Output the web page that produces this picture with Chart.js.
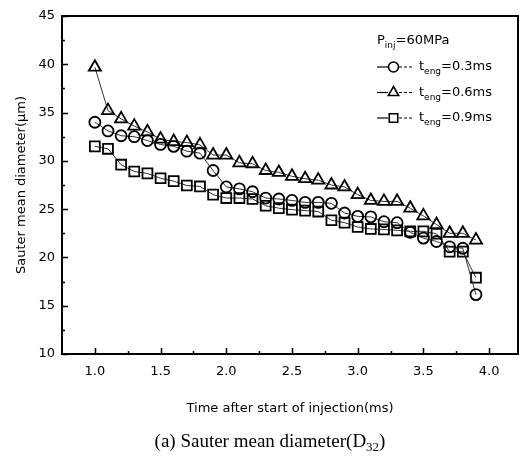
<!DOCTYPE html>
<html>
<head>
<meta charset="utf-8">
<script src="https://cdn.jsdelivr.net/npm/chart.js@4.4.0/dist/chart.umd.min.js"></script>
<style>
    body { margin: 0; background: #fff; }
    canvas { display: block; }
</style>
</head>
<body>
<canvas id="smdChart" width="529" height="463"></canvas>
<script>
// time after start of injection (ms)
const times = [1.0, 1.1, 1.2, 1.3, 1.4, 1.5, 1.6, 1.7, 1.8, 1.9,
               2.0, 2.1, 2.2, 2.3, 2.4, 2.5, 2.6, 2.7, 2.8, 2.9,
               3.0, 3.1, 3.2, 3.3, 3.4, 3.5, 3.6, 3.7, 3.8, 3.9];

// Sauter mean diameter (um) per energizing time
const smd03 = [34.0, 33.1, 32.6, 32.5, 32.1, 31.7, 31.5, 31.0, 30.8, 29.0,
               27.3, 27.1, 26.8, 26.15, 26.05, 25.9, 25.7, 25.7, 25.6, 24.6,
               24.25, 24.2, 23.7, 23.6, 22.6, 22.0, 21.65, 21.1, 20.95, 16.15];
const smd06 = [39.7, 35.2, 34.35, 33.6, 33.0, 32.25, 32.0, 31.9, 31.65, 30.6,
               30.6, 29.8, 29.7, 29.0, 28.8, 28.4, 28.15, 28.0, 27.5, 27.3,
               26.5, 25.9, 25.8, 25.8, 25.1, 24.3, 23.4, 22.5, 22.5, 21.8];
const smd09 = [31.5, 31.25, 29.6, 28.9, 28.7, 28.2, 27.9, 27.45, 27.35, 26.5,
               26.15, 26.15, 26.05, 25.35, 25.1, 24.95, 24.85, 24.75, 23.85, 23.6,
               23.15, 22.95, 22.9, 22.8, 22.7, 22.7, 22.45, 20.6, 20.6, 17.9];

const xTickValues = [1.0, 1.5, 2.0, 2.5, 3.0, 3.5, 4.0];
const yTickValues = [10, 15, 20, 25, 30, 35, 40, 45];

const seriesLabels = ['=0.3ms', '=0.6ms', '=0.9ms'];
const seriesStyles = ['circle', 'triangle', 'rect'];
const seriesRadius = [5.5, 7, 7];

const FONT = "'DejaVu Sans', Verdana, sans-serif";

const toPoints = (values) => times.map((t, i) => ({ x: t, y: values[i] }));

const datasets = [smd03, smd06, smd09].map((values, i) => ({
    label: 't_eng' + seriesLabels[i],
    data: toPoints(values),
    pointStyle: seriesStyles[i],
    pointRadius: seriesRadius[i],
    pointBorderWidth: 1.8,
    pointBorderColor: '#000',
    pointBackgroundColor: 'rgba(255,255,255,0)',
    borderColor: '#333',
    borderWidth: 1,
    showLine: true,
    tension: 0,
}));

// frame + inward ticks
const framePlugin = {
    id: 'frame',
    afterDatasetsDraw(chart) {
        const { ctx, chartArea: a, scales } = chart;
        ctx.save();
        ctx.strokeStyle = '#000';
        ctx.lineWidth = 2;
        ctx.strokeRect(a.left, a.top, a.right - a.left, a.bottom - a.top);

        ctx.lineWidth = 1.5;
        ctx.beginPath();
        for (let v = 10; v <= 45; v += 2.5) {
            const y = Math.round(scales.y.getPixelForValue(v)) + 0.5;
            const len = v % 5 === 0 ? 6 : 3;
            ctx.moveTo(a.left, y);
            ctx.lineTo(a.left + len, y);
        }
        for (let v = 1.0; v <= 4.001; v += 0.25) {
            const x = Math.round(scales.x.getPixelForValue(v)) + 0.5;
            const len = Math.abs(v * 2 - Math.round(v * 2)) < 0.01 ? 6 : 3;
            ctx.moveTo(x, a.bottom);
            ctx.lineTo(x, a.bottom - len);
        }
        ctx.stroke();
        ctx.restore();
    }
};

const drawSub = (ctx, x, y, main, sub, rest) => {
    ctx.font = '13px ' + FONT;
    ctx.fillText(main, x, y);
    x += ctx.measureText(main).width;
    ctx.font = '9px ' + FONT;
    ctx.fillText(sub, x, y + 5);
    x += ctx.measureText(sub).width;
    ctx.font = '13px ' + FONT;
    ctx.fillText(rest, x, y);
};

const legendPlugin = {
    id: 'paperLegend',
    afterDraw(chart) {
        const { ctx } = chart;
        ctx.save();
        ctx.fillStyle = '#000';
        ctx.textBaseline = 'middle';
        drawSub(ctx, 377, 41, 'P', 'inj', '=60MPa');

        const rowsY = [67, 92.5, 118];
        chart.data.datasets.forEach((ds, i) => {
            const y = rowsY[i];
            ctx.strokeStyle = '#000';
            ctx.lineWidth = 1.2;
            ctx.beginPath();
            ctx.moveTo(377, y);
            ctx.lineTo(388, y);
            ctx.stroke();
            ctx.setLineDash([3, 2]);
            ctx.beginPath();
            ctx.moveTo(399, y);
            ctx.lineTo(413, y);
            ctx.stroke();
            ctx.setLineDash([]);

            // hollow marker
            ctx.save();
            ctx.fillStyle = '#fff';
            ctx.lineWidth = 1.6;
            Chart.helpers.drawPoint(ctx, {
                pointStyle: ds.pointStyle,
                radius: i === 0 ? 5 : 6,
                borderWidth: 1.6,
            }, 393.5, y);
            ctx.restore();

            drawSub(ctx, 419, y, 't', 'eng', seriesLabels[i]);
        });
        ctx.restore();
    }
};

const captionPlugin = {
    id: 'caption',
    afterDraw(chart) {
        const { ctx } = chart;
        const main = '(a) Sauter mean diameter(D';
        const sub = '32';
        ctx.save();
        ctx.fillStyle = '#000';
        ctx.textBaseline = 'alphabetic';
        ctx.font = "19px 'Liberation Serif', 'Times New Roman', serif";
        const w1 = ctx.measureText(main).width;
        const w3 = ctx.measureText(')').width;
        ctx.font = "13px 'Liberation Serif', 'Times New Roman', serif";
        const w2 = ctx.measureText(sub).width;
        let x = 270 - (w1 + w2 + w3) / 2;
        const y = 447;
        ctx.font = "19px 'Liberation Serif', 'Times New Roman', serif";
        ctx.fillText(main, x, y);
        x += w1;
        ctx.font = "13px 'Liberation Serif', 'Times New Roman', serif";
        ctx.fillText(sub, x, y + 4);
        x += w2;
        ctx.font = "19px 'Liberation Serif', 'Times New Roman', serif";
        ctx.fillText(')', x, y);
        ctx.restore();
    }
};

const options = {
    responsive: false,
    animation: false,
    layout: {
        padding: { top: 16, right: 11, left: 0, bottom: 39 }
    },
    plugins: {
        legend: { display: false },
        tooltip: { enabled: false },
    },
    scales: {
        x: {
            type: 'linear',
            min: 0.75,
            max: 4.22,
            afterBuildTicks: (scale) => {
                scale.ticks = xTickValues.map(v => ({ value: v }));
            },
            afterFit: (scale) => { scale.height = 70; },
            grid: { display: false, drawTicks: false },
            border: { display: false },
            ticks: {
                color: '#000',
                padding: 10,
                maxRotation: 0,
                autoSkip: false,
                font: { family: FONT, size: 13 },
                callback: (v) => Number(v).toFixed(1),
            },
            title: {
                display: true,
                text: 'Time after start of injection(ms)',
                color: '#000',
                padding: { top: 0, bottom: 8 },
                font: { family: FONT, size: 13 },
            },
        },
        y: {
            min: 10,
            max: 45,
            afterBuildTicks: (scale) => {
                scale.ticks = yTickValues.map(v => ({ value: v }));
            },
            afterFit: (scale) => { scale.width = 62; },
            grid: { display: false, drawTicks: false },
            border: { display: false },
            ticks: {
                color: '#000',
                padding: 7,
                font: { family: FONT, size: 13 },
            },
            title: {
                display: true,
                text: 'Sauter mean diameter(\u03bcm)',
                color: '#000',
                padding: { top: 14, bottom: 0 },
                font: { family: FONT, size: 13 },
            },
        },
    },
};

const ctx = document.getElementById('smdChart').getContext('2d');
new Chart(ctx, {
    type: 'line',
    data: { datasets: datasets },
    options: options,
    plugins: [framePlugin, legendPlugin, captionPlugin],
});
</script>
</body>
</html>
